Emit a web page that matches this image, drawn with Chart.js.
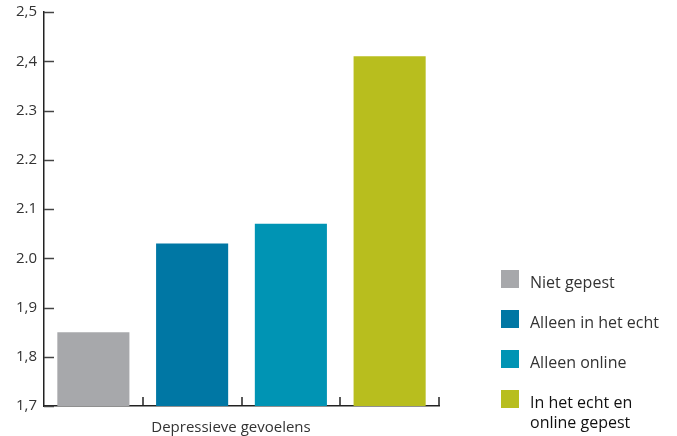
<!DOCTYPE html>
<html>
<head>
<meta charset="utf-8">
<script src="https://cdn.jsdelivr.net/npm/chart.js@4"></script>
<style>
  html, body { margin: 0; padding: 0; background: #fff; }
  #wrap { position: relative; width: 677px; height: 436px; }
  #chart { position: absolute; left: 0; top: 0; }
  #legend { position: absolute; left: 501px; top: 270px; font-family: "Open Sans", sans-serif; font-size: 16px; color: #333; }
  .item { position: absolute; left: 0; width: 180px; }
  .box { position: absolute; left: 0; top: 0; width: 18px; height: 18px; }
  .txt { position: absolute; left: 29px; top: 2px; line-height: 20px; white-space: nowrap; }
  #xtitle { position: absolute; left: 131px; width: 200px; top: 416px; text-align: center; font-family: "Open Sans", sans-serif; font-size: 15px; color: #333; line-height: 20px; }
</style>
</head>
<body>
<div id="wrap">
  <canvas id="chart" width="677" height="436"></canvas>
  <div id="legend"></div>
  <div id="xtitle"></div>
</div>
<script>
// ---- data ----
const seriesNames = ['Niet gepest', 'Alleen in het echt', 'Alleen online', 'In het echt en online gepest'];
const legendLines = [['Niet gepest'], ['Alleen in het echt'], ['Alleen online'], ['In het echt en', 'online gepest']];
const seriesValues = [1.85, 2.03, 2.07, 2.41];
const seriesColors = ['#a7a8ab', '#0077a4', '#0094b4', '#b8be1e'];
const categoryTitle = 'Depressieve gevoelens';
const yTickLabels = ['1,7', '1,8', '1,9', '2.0', '2.1', '2.2', '2.3', '2,4', '2,5'];
const yMin = 1.7, yMax = 2.5, yStep = 0.1;

const FONT = '"Open Sans", sans-serif';

// one slot per series on the category axis
const slots = seriesNames.map(() => '');
const datasets = seriesNames.map((name, i) => ({
  label: name,
  data: seriesValues.map((v, j) => (j === i ? v : null)),
  backgroundColor: seriesColors[i],
  borderWidth: 0,
  categoryPercentage: 1,
  barPercentage: 0.73,
  skipNull: true
}));

// inward tick marks
const innerTicks = {
  id: 'innerTicks',
  afterDraw(chart) {
    const ctx = chart.ctx, x = chart.scales.x, y = chart.scales.y;
    const ca = chart.chartArea;
    ctx.save();
    ctx.strokeStyle = '#444';
    ctx.lineWidth = 1.5;
    y.ticks.forEach((t, i) => {
      const py = Math.round(y.getPixelForTick(i)) + 0.5;
      ctx.beginPath();
      ctx.moveTo(ca.left, py);
      ctx.lineTo(ca.left + 10, py);
      ctx.stroke();
    });
    ctx.strokeStyle = '#222';
    for (let i = 1; i <= slots.length; i++) {
      const px = Math.round(x.getPixelForValue(i - 0.5));
      ctx.beginPath();
      ctx.moveTo(px, ca.bottom);
      ctx.lineTo(px, ca.bottom - 9);
      ctx.stroke();
    }
    ctx.restore();
  }
};

new Chart(document.getElementById('chart'), {
  type: 'bar',
  data: { labels: slots, datasets },
  options: {
    responsive: false,
    animation: false,
    layout: { padding: { top: 12, right: 238, left: 0, bottom: 0 } },
    plugins: { legend: { display: false }, tooltip: { enabled: false } },
    scales: {
      x: {
        offset: true,
        grid: { display: false, drawTicks: false },
        border: { display: true, color: '#222', width: 1.5 },
        ticks: { display: false },
        afterFit(s) { s.height = 30; s.paddingLeft = 0; s.paddingRight = 0; }
      },
      y: {
        min: yMin, max: yMax,
        grid: { display: false, drawTicks: false },
        border: { display: true, color: '#222', width: 1.5 },
        ticks: {
          stepSize: yStep,
          padding: 7,
          color: '#333',
          font: { family: FONT, size: 15 },
          callback: (v, i) => yTickLabels[i]
        },
        afterFit(s) { s.width = 44; s.paddingTop = 0; s.paddingBottom = 0; }
      }
    }
  },
  plugins: [innerTicks]
});

document.getElementById('xtitle').textContent = categoryTitle;

// HTML legend built from the arrays
const lg = document.getElementById('legend');
seriesNames.forEach((name, i) => {
  const it = document.createElement('div');
  it.className = 'item';
  it.style.top = (i * 40) + 'px';
  const b = document.createElement('div');
  b.className = 'box';
  b.style.background = seriesColors[i];
  const t = document.createElement('div');
  t.className = 'txt';
  t.innerHTML = legendLines[i].join('<br>');
  if (i === seriesNames.length - 1) { t.style.color = '#111'; t.style.fontWeight = '500'; }
  it.appendChild(b); it.appendChild(t);
  lg.appendChild(it);
});
</script>
</body>
</html>
